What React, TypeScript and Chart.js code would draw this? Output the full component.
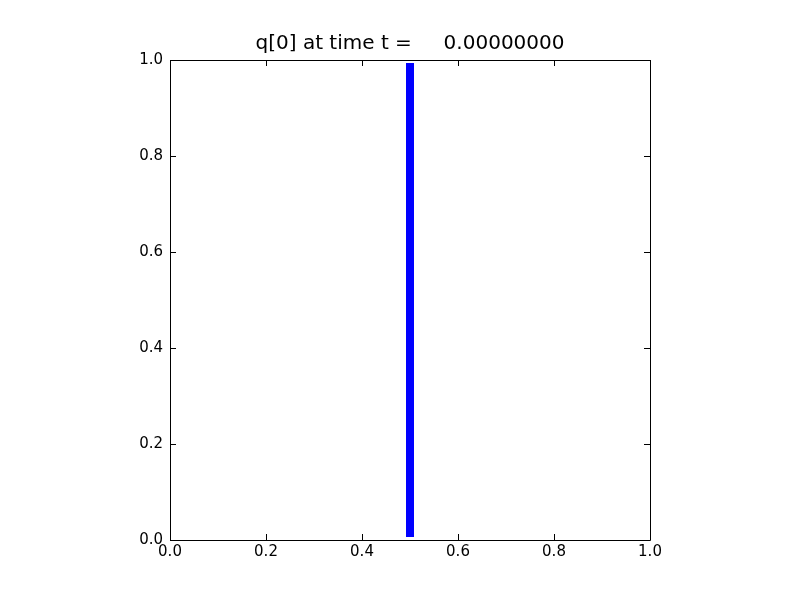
import React, { useEffect, useRef } from "react";
import { Chart, registerables } from "chart.js";

Chart.register(...registerables);

const titleText = "q[0] at time t =     0.00000000";
const lineX = [0.5, 0.5];
const lineY = [0.006, 0.994];
const tickValues = [0, 0.2, 0.4, 0.6, 0.8, 1.0];

const frame = {
  id: "frame",
  afterDatasetsDraw(chart: any) {
    const { ctx, chartArea } = chart;
    const { left, right, top, bottom } = chartArea;
    const xs = chart.scales.x;
    const ys = chart.scales.y;
    ctx.save();
    ctx.strokeStyle = "#000";
    ctx.lineWidth = 1;
    ctx.beginPath();
    ctx.rect(left + 0.5, top + 0.5, right - left, bottom - top);
    ctx.stroke();
    const L = 6;
    ctx.beginPath();
    tickValues.forEach((v) => {
      const px = Math.round(xs.getPixelForValue(v)) + 0.5;
      ctx.moveTo(px, bottom);
      ctx.lineTo(px, bottom - L);
      ctx.moveTo(px, top);
      ctx.lineTo(px, top + L);
      const py = Math.round(ys.getPixelForValue(v)) + 0.5;
      ctx.moveTo(left, py);
      ctx.lineTo(left + L, py);
      ctx.moveTo(right, py);
      ctx.lineTo(right - L, py);
    });
    ctx.stroke();
    ctx.fillStyle = "#000";
    ctx.font = '20px "DejaVu Sans"';
    ctx.textAlign = "center";
    ctx.textBaseline = "alphabetic";
    ctx.fillText(titleText, (left + right) / 2, 49);
    ctx.restore();
  },
};

export default function App() {
  const ref = useRef<HTMLCanvasElement>(null);
  useEffect(() => {
    document.body.style.margin = "0";
    const canvas = ref.current!;
    const chart = new Chart(canvas, {
      type: "line",
      data: {
        datasets: [
          {
            data: lineX.map((x, i) => ({ x, y: lineY[i] })),
            borderColor: "#0000ff",
            borderWidth: 8,
            borderCapStyle: "butt",
            pointRadius: 0,
            fill: false,
          },
        ],
      },
      options: {
        animation: false,
        responsive: false,
        devicePixelRatio: 1,
        layout: { padding: { top: 60, right: 150, bottom: 0, left: 0 } },
        plugins: { legend: { display: false }, title: { display: false }, tooltip: { enabled: false } },
        scales: {
          x: {
            type: "linear",
            min: 0,
            max: 1,
            afterFit: (s: any) => { s.height = 60; },
            afterBuildTicks: (s: any) => { s.ticks = tickValues.map((v) => ({ value: v })); },
            grid: { display: false, drawTicks: false },
            border: { display: false },
            ticks: {
              padding: 3,
              color: "#000",
              font: { family: "DejaVu Sans", size: 15 },
              callback: (v: any) => Number(v).toFixed(1),
              maxRotation: 0,
              autoSkip: false,
            },
          },
          y: {
            type: "linear",
            min: 0,
            max: 1,
            afterFit: (s: any) => { s.width = 170; },
            afterBuildTicks: (s: any) => { s.ticks = tickValues.map((v) => ({ value: v })); },
            grid: { display: false, drawTicks: false },
            border: { display: false },
            ticks: {
              padding: 7,
              color: "#000",
              font: { family: "DejaVu Sans", size: 15 },
              callback: (v: any) => Number(v).toFixed(1),
              autoSkip: false,
            },
          },
        },
      },
      plugins: [frame],
    } as any);
    return () => chart.destroy();
  }, []);
  return <canvas ref={ref} width={800} height={600} style={{ display: "block" }} />;
}
